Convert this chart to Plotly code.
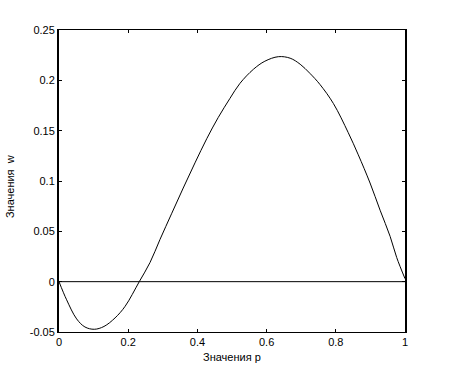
import plotly.graph_objects as go

p_vals = [0.0, 0.022, 0.051, 0.075, 0.102, 0.13, 0.162, 0.191, 0.232, 0.263, 0.292, 0.326,
          0.359, 0.393, 0.427, 0.46, 0.494, 0.523, 0.562, 0.595, 0.634, 0.668, 0.697,
          0.725, 0.754, 0.793, 0.836, 0.865, 0.899, 0.928, 0.957, 0.976, 1.0]
w_vals = [0.0, -0.018, -0.037, -0.045, -0.0473, -0.0445, -0.036, -0.0245, 0.0, 0.019, 0.042, 0.068,
          0.093, 0.118, 0.142, 0.163, 0.182, 0.197, 0.211, 0.219, 0.2235, 0.222, 0.216,
          0.207, 0.196, 0.177, 0.148, 0.126, 0.098, 0.071, 0.045, 0.024, 0.003]

x_ticks = [0, 0.2, 0.4, 0.6, 0.8, 1]
x_labels = ["0", "0.2", "0.4", "0.6", "0.8", "1"]
y_ticks = [-0.05, 0, 0.05, 0.1, 0.15, 0.2, 0.25]
y_labels = ["-0.05", "0", "0.05", "0.1", "0.15", "0.2", "0.25"]
zero_x = [0, 1]
zero_y = [0, 0]
x_title = "Значения p"
y_title = "Значения  w"

font = dict(family="Liberation Sans, Arial, sans-serif", size=11, color="black")

fig = go.Figure()
fig.add_trace(go.Scatter(x=zero_x, y=zero_y, mode="lines",
                         line=dict(color="black", width=1), hoverinfo="skip"))
fig.add_trace(go.Scatter(x=p_vals, y=w_vals, mode="lines",
                         line=dict(color="black", width=1, shape="spline", smoothing=1.0),
                         hoverinfo="skip"))

fig.update_layout(
    width=450, height=374,
    margin=dict(l=59, r=45, t=30, b=42),
    paper_bgcolor="white", plot_bgcolor="white",
    showlegend=False,
    font=font,
    xaxis=dict(range=[0, 1], tickvals=x_ticks, ticktext=x_labels,
               showgrid=False, zeroline=False, showline=True, linecolor="black",
               linewidth=1, mirror="ticks", ticks="inside", ticklen=3,
               tickcolor="black", tickfont=font, automargin=False),
    yaxis=dict(range=[-0.05, 0.25], tickvals=y_ticks, ticktext=y_labels,
               showgrid=False, zeroline=False, showline=True, linecolor="black",
               linewidth=2, mirror="ticks", ticks="inside", ticklen=3,
               tickcolor="black", tickfont=font, automargin=False),
    annotations=[
        dict(text=x_title, xref="paper", yref="paper", x=0.5, y=-0.083,
             showarrow=False, font=font, xanchor="center", yanchor="middle"),
        dict(text=y_title, xref="paper", yref="paper", x=-0.1416, y=0.48,
             showarrow=False, font=font, textangle=-90,
             xanchor="center", yanchor="middle"),
    ],
)

fig.write_html("out.html")
